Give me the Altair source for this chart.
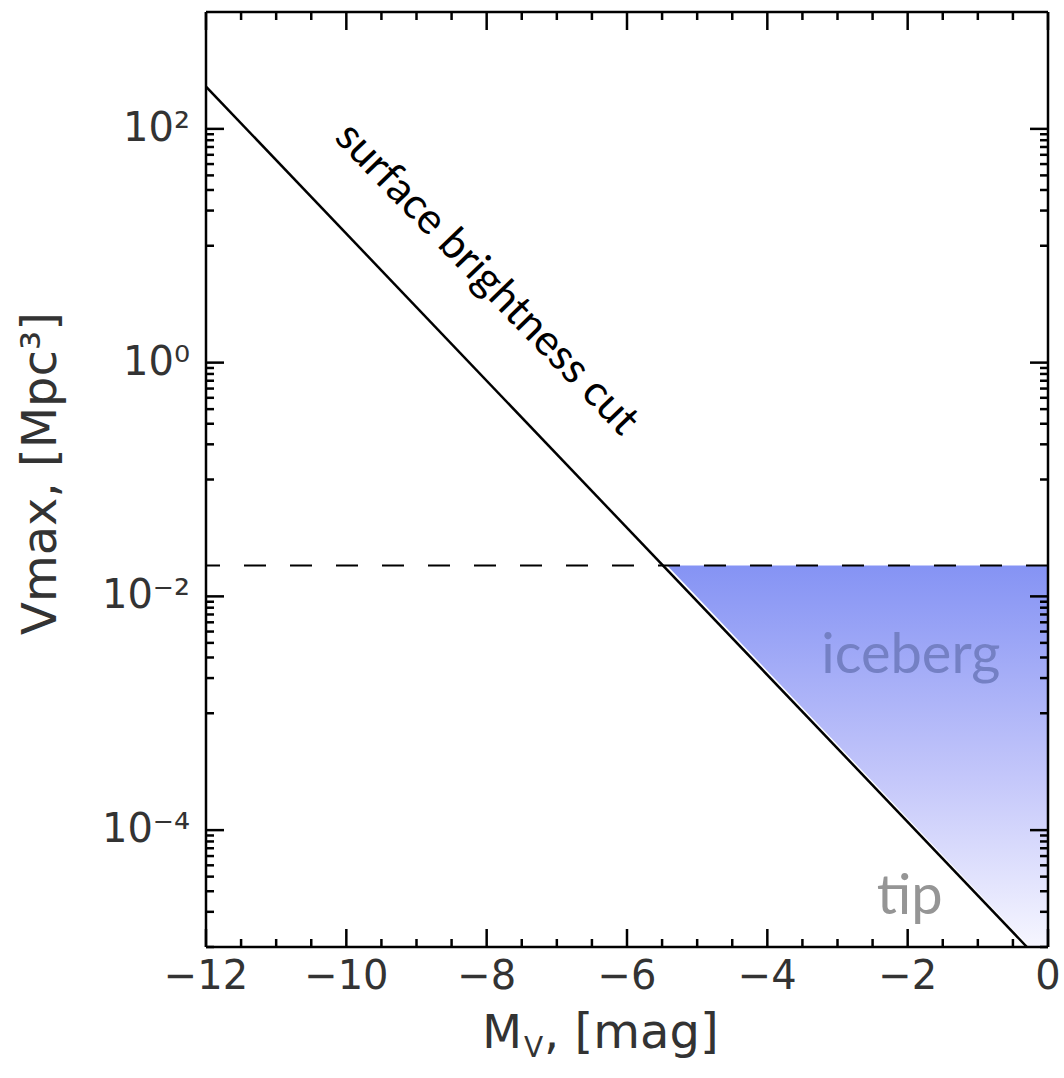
import altair as alt
import pandas as pd

# ---- data ----
line_m = [-12.0, -0.3]
line_v = [230.0, 1.0e-5]

cut_v = 0.0184

ice_m = [-5.47, -0.3, 0.0]
ice_v = [0.0184, 1.0e-5, 1.0e-5]

x_major = [-12, -10, -8, -6, -4, -2, 0]
x_labels = ["−12", "−10", "−8", "−6", "−4", "−2", "0"]
x_minor = [-11.5, -11, -10.5, -9.5, -9, -8.5, -7.5, -7, -6.5, -5.5, -5, -4.5,
           -3.5, -3, -2.5, -1.5, -1, -0.5]
y_major = [1e2, 1e0, 1e-2, 1e-4]
y_labels = ["10²", "10⁰", "10⁻²", "10⁻⁴"]
y_minor = [k * 10.0 ** e for e in (1, -1, -3, -5) for k in range(1, 10)]

sb_label = {"m": [-8.0], "v": [5.2], "t": ["surface brightness cut"]}
ice_label = {"m": [-0.68], "v": [2.2e-3], "t": ["iceberg"]}
tip_label = {"m": [-1.5], "v": [1.9e-5], "t": ["tip"]}

y_title = "Vmax,   [Mpc³]"
x_title_main = "M"
x_title_sub = "V"
x_title_rest = ", [mag]"

W, H = 842, 935
XD = [-12, 0]
YD = [1e-5, 1e3]

xs = alt.Scale(domain=XD, nice=False, zero=False)
ys = alt.Scale(type="log", domain=YD, nice=False)

line_df = pd.DataFrame({"m": line_m, "v": line_v})
ice_df = pd.DataFrame({"m": ice_m, "v": ice_v, "top": [cut_v] * len(ice_m)})
cut_df = pd.DataFrame({"v": [cut_v]})
xmaj_df = pd.DataFrame({"m": x_major, "lab": x_labels})
xmin_df = pd.DataFrame({"m": x_minor})
ymaj_df = pd.DataFrame({"v": y_major, "lab": y_labels})
ymin_df = pd.DataFrame({"v": y_minor})

FONT = "DejaVu Sans"
AX = "#333333"


def X(field="m:Q"):
    return alt.X(field, scale=xs, axis=None)


def Y(field="v:Q"):
    return alt.Y(field, scale=ys, axis=None)


gradient = alt.Gradient(
    gradient="linear",
    stops=[alt.GradientStop(color="#8593f4", offset=0),
           alt.GradientStop(color="#c3c6fa", offset=0.55),
           alt.GradientStop(color="#f6f6ff", offset=1)],
    x1=0, x2=0, y1=0, y2=1,
)

area = alt.Chart(ice_df).mark_area(color=gradient, xOffset=3, clip=True).encode(
    x=X(), y=Y(), y2="top:Q",
)

cut = alt.Chart(cut_df).mark_rule(color="black", strokeWidth=2, strokeDash=[22, 24]).encode(
    y=Y()
)

line = alt.Chart(line_df).mark_line(color="black", strokeWidth=2.5, clip=True).encode(
    x=X(), y=Y(),
)


def yticks(df, length):
    left = alt.Chart(df).mark_rule(color="black", strokeWidth=2.5).encode(
        y=Y(), x=alt.value(0), x2=alt.value(length))
    right = alt.Chart(df).mark_rule(color="black", strokeWidth=2.5).encode(
        y=Y(), x=alt.value(W - length), x2=alt.value(W))
    return [left, right]


def xticks(df, length):
    bottom = alt.Chart(df).mark_rule(color="black", strokeWidth=2.5).encode(
        x=X(), y=alt.value(H - length), y2=alt.value(H))
    top = alt.Chart(df).mark_rule(color="black", strokeWidth=2.5).encode(
        x=X(), y=alt.value(0), y2=alt.value(length))
    return [bottom, top]


ticks = yticks(ymaj_df, 18) + yticks(ymin_df, 8) + xticks(xmaj_df, 18) + xticks(xmin_df, 8)

# plot frame
frame_df = pd.DataFrame({"k": [0]})
frame = [
    alt.Chart(frame_df).mark_rule(color="black", strokeWidth=2.5).encode(
        x=alt.value(0), y=alt.value(0), y2=alt.value(H)),
    alt.Chart(frame_df).mark_rule(color="black", strokeWidth=2.5).encode(
        x=alt.value(W), y=alt.value(0), y2=alt.value(H)),
    alt.Chart(frame_df).mark_rule(color="black", strokeWidth=2.5).encode(
        y=alt.value(0), x=alt.value(0), x2=alt.value(W)),
    alt.Chart(frame_df).mark_rule(color="black", strokeWidth=2.5).encode(
        y=alt.value(H), x=alt.value(0), x2=alt.value(W)),
]

# tick labels
ylab = alt.Chart(ymaj_df).mark_text(
    font=FONT, fontSize=40, align="right", baseline="middle", color=AX
).encode(y=Y(), x=alt.value(-16), text="lab:N")

xlab = alt.Chart(xmaj_df).mark_text(
    font=FONT, fontSize=40, align="center", baseline="middle", color=AX
).encode(x=X(), y=alt.value(H + 30), text="lab:N")

# axis titles
ytit = alt.Chart(pd.DataFrame({"t": [y_title]})).mark_text(
    font=FONT, fontSize=48, angle=270, align="center", baseline="middle", color=AX
).encode(x=alt.value(-164), y=alt.value(H / 2 - 6), text="t:N")

xtit_m = alt.Chart(pd.DataFrame({"t": [x_title_main]})).mark_text(
    font=FONT, fontSize=46, align="right", baseline="alphabetic", color=AX
).encode(x=alt.value(316), y=alt.value(H + 101), text="t:N")

xtit_s = alt.Chart(pd.DataFrame({"t": [x_title_sub]})).mark_text(
    font=FONT, fontSize=28, align="left", baseline="alphabetic", color=AX
).encode(x=alt.value(318), y=alt.value(H + 110), text="t:N")

xtit_r = alt.Chart(pd.DataFrame({"t": [x_title_rest]})).mark_text(
    font=FONT, fontSize=48, align="left", baseline="alphabetic", color=AX
).encode(x=alt.value(338), y=alt.value(H + 101), text="t:N")

# annotations
sb_text = alt.Chart(pd.DataFrame(sb_label)).mark_text(
    font="Lato", fontSize=43, angle=46, align="center", baseline="middle", color="black"
).encode(x=X(), y=Y(), text="t:N")

ice_text = alt.Chart(pd.DataFrame(ice_label)).mark_text(
    font="Lato", fontSize=56, align="right", baseline="alphabetic", color="#7480c4"
).encode(x=X(), y=Y(), text="t:N")

tip_text = alt.Chart(pd.DataFrame(tip_label)).mark_text(
    font="Lato", fontSize=56, align="right", baseline="alphabetic", color="#959595"
).encode(x=X(), y=Y(), text="t:N")

chart = alt.layer(
    area, cut, line, *ticks, *frame, ylab, xlab, ytit, xtit_m, xtit_s, xtit_r,
    sb_text, ice_text, tip_text
).properties(
    width=W, height=H,
    background="white",
    autosize=alt.AutoSizeParams(type="none"),
    padding={"left": 206, "top": 12, "right": 16, "bottom": 131},
).configure_view(
    stroke="transparent"
)

chart.save("out.html", embed_options={"renderer": "svg", "actions": False})
